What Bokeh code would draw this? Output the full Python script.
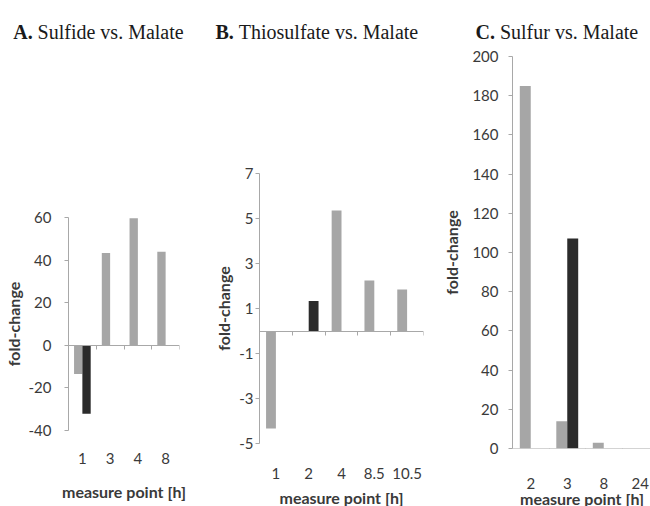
from bokeh.plotting import figure
from bokeh.layouts import row, column
from bokeh.models import FixedTicker, LinearAxis, Range1d, Spacer
from bokeh.core.properties import value
from bokeh.embed import file_html
from bokeh.resources import INLINE

# ---- data ----
a_cats = ["1", "3", "4", "8"]
a_grey = [-13.5, 43.3, 59.6, 43.9]
a_dark = [-32.1, 0, 0, 0]
a_yticks = [-40, -20, 0, 20, 40, 60]

b_cats = ["1", "2", "4", "8.5", "10.5"]
b_grey = [-4.33, 0, 5.36, 2.25, 1.84]
b_dark = [0, 1.33, 0, 0, 0]
b_yticks = [-5, -3, -1, 1, 3, 5, 7]

c_cats = ["2", "3", "8", "24"]
c_grey = [184.9, 13.9, 2.9, 0]
c_dark = [0, 107.1, 0, 0]
c_yticks = [0, 20, 40, 60, 80, 100, 120, 140, 160, 180, 200]

title_letters = ["A.", "B.", "C."]
title_texts = ["Sulfide vs. Malate", "Thiosulfate vs. Malate", "Sulfur vs. Malate"]

GREY = "#a6a6a6"
DARK = "#2b2b2b"
AXIS = "#a8a8a8"
TXT = "#3a3a3a"
FONT = "Lato"
STRIP = 44


def panel(cats, grey, dark, yticks, *, left, fw, right, gap, fh, bottom,
          xend, ystd, ylab_std, xstd, xlab_std):
    n = len(cats)
    p = figure(frame_width=fw, frame_height=fh, min_border_left=left,
               min_border_right=right, min_border_top=10, min_border_bottom=bottom,
               x_range=Range1d(-0.5, xend), y_range=Range1d(yticks[0], yticks[-1]),
               output_backend="svg", toolbar_location=None,
               background_fill_color="white", border_fill_color="white")
    p.outline_line_color = None
    p.grid.visible = False

    xs = list(range(n))
    p.vbar(x=[i - 0.15 for i in xs], top=grey, width=0.3, fill_color=GREY, line_color=None)
    p.vbar(x=[i + 0.15 for i in xs], top=dark, width=0.3, fill_color=DARK, line_color=None)

    # y axis
    ya = p.yaxis[0]
    ya.ticker = FixedTicker(ticks=yticks)
    ya.major_label_overrides = {v: str(v) for v in yticks}
    ya.axis_line_color = AXIS
    ya.major_tick_line_color = AXIS
    ya.major_tick_out = 4
    ya.major_tick_in = 0
    ya.minor_tick_line_color = None
    ya.major_label_text_font = FONT
    ya.major_label_text_font_size = "15px"
    ya.major_label_text_color = TXT
    ya.major_label_standoff = ystd
    ya.axis_label = "fold-change"
    ya.axis_label_text_font = FONT
    ya.axis_label_text_font_style = "bold"
    ya.axis_label_text_font_size = "16px"
    ya.axis_label_text_color = TXT
    ya.axis_label_standoff = ylab_std

    # category label axis
    xa = p.xaxis[0]
    xa.ticker = FixedTicker(ticks=xs)
    xa.major_label_overrides = {i: c for i, c in enumerate(cats)}
    xa.axis_line_color = None
    xa.major_tick_line_color = None
    xa.minor_tick_line_color = None
    xa.major_label_text_font = FONT
    xa.major_label_text_font_size = "15px"
    xa.major_label_text_color = TXT
    xa.major_label_standoff = xstd
    xa.axis_label = "measure point [h]"
    xa.axis_label_text_font = FONT
    xa.axis_label_text_font_style = "bold"
    xa.axis_label_text_font_size = "16px"
    xa.axis_label_text_color = TXT
    xa.axis_label_standoff = xlab_std

    # zero line with category-boundary ticks (pointing down)
    za = LinearAxis(fixed_location=0,
                    ticker=FixedTicker(ticks=[], minor_ticks=[i - 0.5 for i in range(n + 1)]))
    za.axis_line_color = AXIS
    za.minor_tick_line_color = AXIS
    za.minor_tick_out = 0
    za.minor_tick_in = 4
    za.major_tick_line_color = None
    za.major_tick_out = 0
    za.major_tick_in = 0
    za.major_label_standoff = 0
    p.add_layout(za, "above")

    total_w = left + fw + right
    return column(Spacer(width=total_w, height=gap), p, spacing=0)


# title strip
t = figure(width=650, height=STRIP, min_border=0, x_range=Range1d(0, 650), y_range=Range1d(0, STRIP),
           output_backend="svg", toolbar_location=None,
           background_fill_color="white", border_fill_color="white")
t.axis.visible = False
t.grid.visible = False
t.outline_line_color = None
base = STRIP - 31
t.text(x=[12.7, 215, 475], y=[base] * 3, text=title_letters,
       text_font=value("Liberation Serif"), text_font_style="bold", text_font_size="20px",
       text_color="#1a1a1a", text_baseline="alphabetic")
t.text(x=[12.7 + 24.4, 215 + 23.3, 475 + 24.4], y=[base] * 3, text=title_texts,
       text_font=value("Liberation Serif"), text_font_size="20px",
       text_color="#1a1a1a", text_baseline="alphabetic")

pa = panel(a_cats, a_grey, a_dark, a_yticks,
           left=67, fw=111, right=27, gap=163, fh=213, bottom=76,
           xend=3.5, ystd=13, ylab_std=3, xstd=16, xlab_std=15)
pb = panel(b_cats, b_grey, b_dark, b_yticks,
           left=53, fw=164, right=10, gap=119, fh=270, bottom=63,
           xend=4.5, ystd=2, ylab_std=3, xstd=18, xlab_std=6)
pc = panel(c_cats, c_grey, c_dark, c_yticks,
           left=79, fw=139, right=0, gap=2, fh=392, bottom=58,
           xend=-0.5 + 139 / 36.5, ystd=10, ylab_std=8, xstd=23, xlab_std=-3)

layout = column(t, row(pa, pb, pc, spacing=0), spacing=0)
open("out.html", "w").write(file_html(layout, INLINE))
